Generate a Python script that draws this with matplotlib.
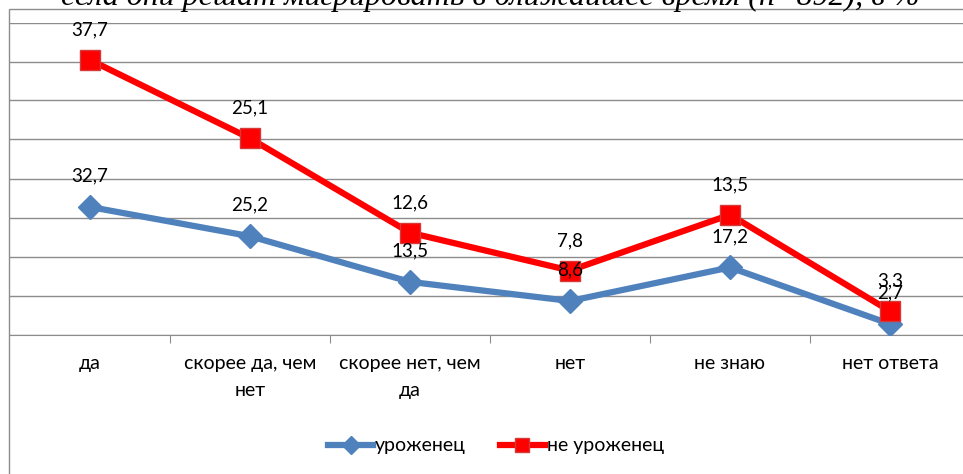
import matplotlib
matplotlib.use("Agg")
import matplotlib.pyplot as plt
from matplotlib.patches import Rectangle

categories = ["да", "скорее да, чем\nнет", "скорее нет, чем\nда", "нет", "не знаю", "нет ответа"]
native = [32.7, 25.2, 13.5, 8.6, 17.2, 2.7]
non_native = [37.7, 25.1, 12.6, 7.8, 13.5, 3.3]
series_names = ["уроженец", "не уроженец"]
title = "села они решат мигрировать в ближайшее время (n=892), в %"

BLUE = "#4F81BD"
RED = "#FF0000"
FONT = "Lato"

W, H = 963, 474
fig = plt.figure(figsize=(W / 100, H / 100), dpi=100)

# outer chart frame (cut off on the right and bottom)
fig.add_artist(Rectangle((9 / W, -0.1), 2, 1.1 - 9 / H, transform=fig.transFigure,
                         fill=False, edgecolor="#8c8c8c", lw=1.0))

# title is mostly cut off by the top edge of the picture
fig.text(490 / W, 1 - 5 / H, title, ha="center", va="baseline",
         family="Liberation Serif", style="italic", fontsize=23)

ax = fig.add_axes([10 / W, 1 - 334.5 / H, 960 / W, 312 / H])
x = list(range(len(categories)))
# stacked line chart: second series sits on top of the first
stacked = [a + b for a, b in zip(native, non_native)]

ax.plot(x, native, color=BLUE, lw=4.5, marker="D", ms=12, mfc=BLUE, mec=BLUE,
        label=series_names[0], zorder=3)
ax.plot(x, stacked, color=RED, lw=4.5, marker="s", ms=14, mfc=RED, mec="#d43a3a",
        label=series_names[1], zorder=4)

for xi, yv, lab in zip(x, stacked, non_native):
    ax.annotate(f"{lab:.1f}".replace(".", ","), (xi, yv), xytext=(0, 30),
                textcoords="offset pixels", ha="center", va="center",
                family=FONT, fontsize=13.5, zorder=6)
for xi, yv, lab in zip(x, native, native):
    ax.annotate(f"{lab:.1f}".replace(".", ","), (xi, yv), xytext=(0, 31),
                textcoords="offset pixels", ha="center", va="center",
                family=FONT, fontsize=13.5, zorder=6)

ax.set_xlim(-0.5, 5.5)
ax.set_ylim(0, 80)
ax.set_yticks(range(0, 81, 10))
ax.set_yticklabels([])
ax.tick_params(axis="y", length=0)
ax.grid(axis="y", color="#8c8c8c", lw=1.0)
ax.set_axisbelow(True)
for s in ["top", "right", "left"]:
    ax.spines[s].set_visible(False)
ax.spines["bottom"].set_color("#8c8c8c")

ax.set_xticks([i + 0.5 for i in x[:-1]], minor=False)
ax.set_xticklabels([])
ax.tick_params(axis="x", length=6, color="#8c8c8c", direction="out")
for xi, lab in zip(x, categories):
    ax.text(xi, -0.066, lab, transform=ax.get_xaxis_transform(), ha="center", va="top",
            family=FONT, fontsize=14, linespacing=1.68)

leg = fig.legend(loc="center", bbox_to_anchor=(496 / W, 1 - 446 / H), ncol=2, frameon=False,
                 prop={"family": FONT, "size": 14}, handlelength=2.3, handletextpad=0.1,
                 columnspacing=1.75, markerscale=0.75)

fig.savefig("out.png", dpi=100)
